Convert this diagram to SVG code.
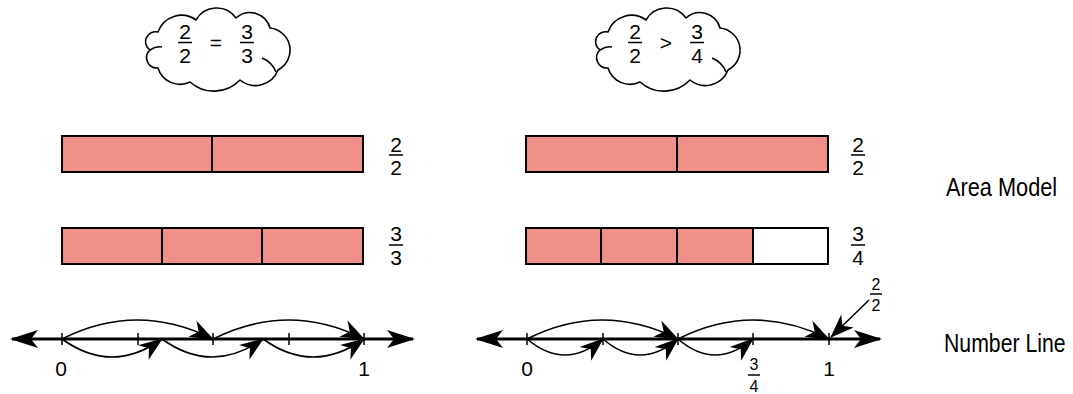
<svg xmlns="http://www.w3.org/2000/svg" width="1073" height="394" viewBox="0 0 1073 394">
<style>
text{font-family:"Liberation Sans",Arial,sans-serif;fill:#000;text-anchor:middle}
.f{font-size:21px}
.fs{font-size:16px}
.lbl{font-size:25px;text-anchor:start}
.bar{fill:#EF9089;stroke:#000;stroke-width:2}
.empty{fill:#fff;stroke:#000;stroke-width:2}
.div{stroke:#000;stroke-width:2}
.fl{stroke:#000;stroke-width:1.5}
.cloud{fill:#fff;stroke:#000;stroke-width:1.6;stroke-linejoin:round}
.curl{fill:none;stroke:#000;stroke-width:1.6}
.nl{stroke:#000;stroke-width:3;fill:none}
.tick{stroke:#000;stroke-width:1.5}
.arc{fill:none;stroke:#000;stroke-width:1.6}
</style>
<defs>
<marker id="big" markerUnits="userSpaceOnUse" viewBox="-30 -12 32 24" refX="0" refY="0" markerWidth="32" markerHeight="24" orient="auto-start-reverse" overflow="visible">
<path d="M2,0 L-26,-9 L-19,0 L-26,9 Z" fill="#000"/>
</marker>
<marker id="sm" markerUnits="userSpaceOnUse" viewBox="-26 -12 28 24" refX="0" refY="0" markerWidth="28" markerHeight="24" orient="auto" overflow="visible">
<path d="M1,0 L-23,-9 L-16,0 L-23,9 Z" fill="#000"/>
</marker>
<g id="cloudShape">
<path class="cloud" d="M158,32 A24.8,24.8 0 0 1 196,20 A23.7,23.7 0 0 1 236,18 A20.7,20.7 0 0 1 270,28 A22.3,22.3 0 0 1 278,70 A24.3,24.3 0 0 1 240,80 A36,36 0 0 1 190,82 A23,23 0 0 1 158,68 A10.4,10.4 0 0 1 150,50 A10,10 0 0 1 158,32 Z"/>
<path class="curl" d="M150,50 Q156,46 162,47"/>
<path class="curl" d="M262,58 Q272,62 276,72"/>
</g>
</defs>

<!-- Clouds -->
<g id="cloud-left">
<use href="#cloudShape"/>
<text class="f" x="185" y="39">2</text>
<line class="fl" x1="178" y1="42.5" x2="192" y2="42.5"/>
<text class="f" x="185" y="63">2</text>
<text class="f" x="216" y="50">=</text>
<text class="f" x="247" y="39">3</text>
<line class="fl" x1="240" y1="42.5" x2="254" y2="42.5"/>
<text class="f" x="247" y="63">3</text>
</g>
<g id="cloud-right">
<use href="#cloudShape" transform="translate(450,0)"/>
<text class="f" x="635" y="39">2</text>
<line class="fl" x1="628" y1="42.5" x2="642" y2="42.5"/>
<text class="f" x="635" y="63">2</text>
<text class="f" x="666" y="50">&gt;</text>
<text class="f" x="697" y="39">3</text>
<line class="fl" x1="690" y1="42.5" x2="704" y2="42.5"/>
<text class="f" x="697" y="63">4</text>
</g>

<!-- Area models left -->
<g id="bar-left-halves">
<rect class="bar" x="62" y="136" width="301" height="36"/>
<line class="div" x1="212" y1="136" x2="212" y2="172"/>
<text class="f" x="396" y="152">2</text>
<line class="fl" x1="389" y1="155" x2="403" y2="155"/>
<text class="f" x="396" y="175">2</text>
</g>
<g id="bar-left-thirds">
<rect class="bar" x="62" y="228" width="301" height="36"/>
<line class="div" x1="162" y1="228" x2="162" y2="264"/>
<line class="div" x1="262" y1="228" x2="262" y2="264"/>
<text class="f" x="396" y="241">3</text>
<line class="fl" x1="389" y1="245" x2="403" y2="245"/>
<text class="f" x="396" y="265">3</text>
</g>

<!-- Area models right -->
<g id="bar-right-halves">
<rect class="bar" x="526" y="136" width="302" height="36"/>
<line class="div" x1="677" y1="136" x2="677" y2="172"/>
<text class="f" x="858" y="152">2</text>
<line class="fl" x1="851" y1="155" x2="865" y2="155"/>
<text class="f" x="858" y="175">2</text>
</g>
<g id="bar-right-quarters">
<rect class="bar" x="526" y="228" width="227" height="36"/>
<rect class="empty" x="753" y="228" width="75" height="36"/>
<line class="div" x1="601" y1="228" x2="601" y2="264"/>
<line class="div" x1="677" y1="228" x2="677" y2="264"/>
<text class="f" x="858" y="241">3</text>
<line class="fl" x1="851" y1="245" x2="865" y2="245"/>
<text class="f" x="858" y="265">4</text>
</g>

<!-- Labels -->
<g id="label-area"><text class="lbl" transform="translate(946,196) scale(0.87,1)">Area Model</text></g>
<g id="label-number"><text class="lbl" transform="translate(944,352) scale(0.85,1)">Number Line</text></g>

<!-- Number line left -->
<g id="numberline-left">
<line class="nl" x1="12" y1="339" x2="413" y2="339" marker-start="url(#big)" marker-end="url(#big)"/>
<line class="tick" x1="62" y1="333" x2="62" y2="345"/>
<line class="tick" x1="138" y1="333" x2="138" y2="345"/>
<line class="tick" x1="213" y1="333" x2="213" y2="345"/>
<line class="tick" x1="289" y1="333" x2="289" y2="345"/>
<line class="tick" x1="364" y1="333" x2="364" y2="345"/>
<text class="f" x="61" y="376">0</text>
<text class="f" x="364" y="376">1</text>
</g>

<!-- Number line right -->
<g id="numberline-right">
<line class="nl" x1="477" y1="339" x2="880" y2="339" marker-start="url(#big)" marker-end="url(#big)"/>
<line class="tick" x1="527" y1="333" x2="527" y2="345"/>
<line class="tick" x1="603" y1="333" x2="603" y2="345"/>
<line class="tick" x1="678" y1="333" x2="678" y2="345"/>
<line class="tick" x1="753" y1="333" x2="753" y2="345"/>
<line class="tick" x1="829" y1="333" x2="829" y2="345"/>
<text class="f" x="527" y="376">0</text>
<text class="f" x="829" y="376">1</text>
<text class="fs" x="754" y="370">3</text>
<line class="fl" x1="748" y1="375" x2="760" y2="375"/>
<text class="fs" x="754" y="392">4</text>
<text class="fs" x="876" y="290">2</text>
<line class="fl" x1="870" y1="294" x2="882" y2="294"/>
<text class="fs" x="876" y="311">2</text>
</g>

<!-- Connectors (jump arcs) -->
<g id="connectors">
<path class="arc" d="M62,339 Q137,301 213,339" marker-end="url(#sm)"/>
<path class="arc" d="M213,339 Q289,301 364,339" marker-end="url(#sm)"/>
<path class="arc" d="M62,339 Q112,375 162,339" marker-end="url(#sm)"/>
<path class="arc" d="M162,339 Q212,375 263,339" marker-end="url(#sm)"/>
<path class="arc" d="M263,339 Q313,375 364,339" marker-end="url(#sm)"/>
<path class="arc" d="M527,339 Q602,301 678,339" marker-end="url(#sm)"/>
<path class="arc" d="M678,339 Q753,301 829,339" marker-end="url(#sm)"/>
<path class="arc" d="M527,339 Q565,371 603,339" marker-end="url(#sm)"/>
<path class="arc" d="M603,339 Q640,371 678,339" marker-end="url(#sm)"/>
<path class="arc" d="M678,339 Q715,371 753,339" marker-end="url(#sm)"/>
<path class="arc" d="M869,300 L831,337" marker-end="url(#sm)"/>
</g>
</svg>
